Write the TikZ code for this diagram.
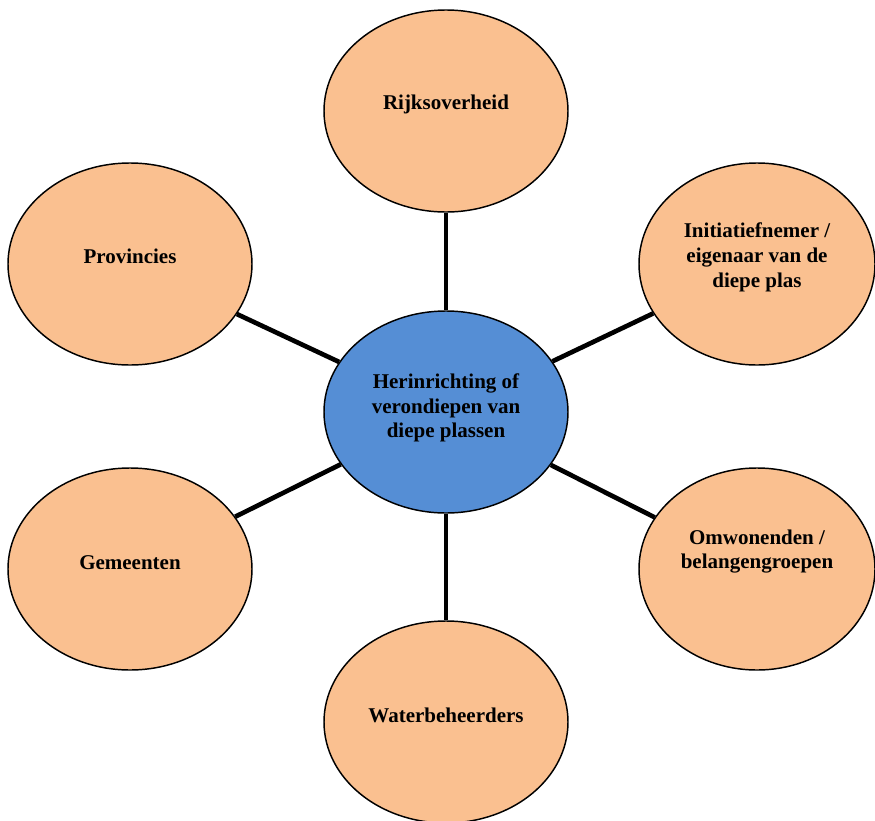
\documentclass[tikz,border=0pt]{standalone}
\usepackage{fontspec}
\setmainfont{Liberation Serif}
\usetikzlibrary{shapes.geometric,backgrounds}

\definecolor{oranje}{HTML}{FAC090}
\definecolor{blauw}{HTML}{558ED5}

\begin{document}
\begin{tikzpicture}[x=0.75pt, y=-0.75pt,
    partij/.style={draw, ellipse, line width=1.1pt, fill=oranje, inner sep=0pt,
      minimum width=183pt, minimum height=151.5pt},
    smal/.style={minimum width=177pt},
    kern/.style={partij, fill=blauw},
    tekst/.style={font=\bfseries\fontsize{15.75}{18.4}\selectfont, align=center},
    lijn/.style={line width=3.5pt}]
      \useasboundingbox (0,0) rectangle (875,821);

      % Centrale opgave
      \node[kern, label={[tekst, yshift=3pt]center:{Herinrichting of\\ verondiepen van\\ diepe plassen}}] (plas) at (446,412) {};

      % Betrokken partijen
      \node[partij, label={[tekst, yshift=5pt]center:Rijksoverheid}] (rijk) at (446,111) {};
      \node[partij, label={[tekst, yshift=6pt]center:Provincies}] (prov) at (130,264) {};
      \node[partij, smal, label={[tekst, yshift=5pt]center:{Initiatiefnemer /\\ eigenaar van de\\ diepe plas}}] (init) at (757,264) {};
      \node[partij, label={[tekst, yshift=5pt]center:Gemeenten}] (gem) at (130,569) {};
      \node[partij, smal, label={[tekst, yshift=13pt]center:{Omwonenden /\\ belangengroepen}}] (omw) at (757,569) {};
      \node[partij, label={[tekst, yshift=5pt]center:Waterbeheerders}] (water) at (446,722) {};

      % Verbindingen met de centrale opgave
      \begin{scope}[on background layer]
        \draw[lijn] (plas) -- (rijk);
        \draw[lijn] (plas) -- (prov);
        \draw[lijn] (plas) -- (init);
        \draw[lijn] (plas) -- (gem);
        \draw[lijn] (plas) -- (omw);
        \draw[lijn] (plas) -- (water);
      \end{scope}
\end{tikzpicture}
\end{document}
